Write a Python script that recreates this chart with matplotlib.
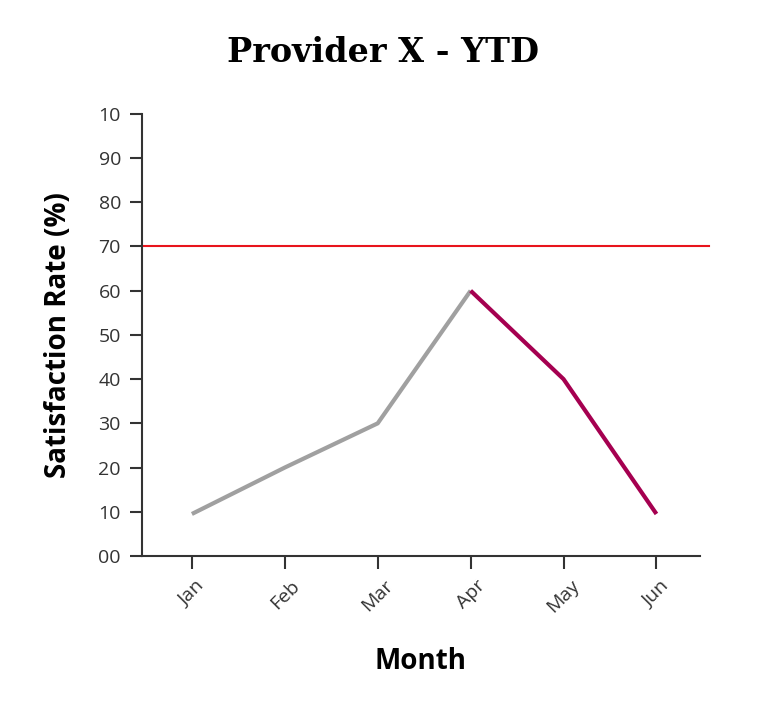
import matplotlib
matplotlib.use("Agg")
import matplotlib.pyplot as plt

months = ["Jan", "Feb", "Mar", "Apr", "May", "Jun"]
values = [9.5, 20, 30, 60, 40, 9.5]
target = 70
yticks = [0, 10, 20, 30, 40, 50, 60, 70, 80, 90, 100]
ylabels = ["00", "10", "20", "30", "40", "50", "60", "70", "80", "90", "10"]

plt.rcParams['font.family'] = ['Open Sans', 'DejaVu Sans']
fig = plt.figure(figsize=(7.66, 7.16), dpi=100)
ax = fig.add_axes([0.185, 0.2235, 0.729, 0.6175])
x = list(range(len(months)))
ax.plot(x[:4], values[:4], color="#a0a0a0", lw=3, solid_capstyle="butt")
ax.plot(x[3:], values[3:], color="#a50050", lw=3, solid_capstyle="butt")
ax.axhline(target, color="#e8141c", lw=1.5, xmax=1.015, clip_on=False)
ax.set_xlim(-0.54, 5.47)
ax.set_ylim(0, 100)
ax.set_yticks(yticks)
ax.set_yticklabels(ylabels, fontsize=14, color="#333333")
ax.set_xticks(x)
ax.set_xticklabels(months, rotation=45, fontsize=14, color="#333333")
for s in ["top", "right"]:
    ax.spines[s].set_visible(False)
for s in ["left", "bottom"]:
    ax.spines[s].set_color("#333333")
    ax.spines[s].set_linewidth(1.5)
ax.tick_params(length=9, width=1.5, color="#333333", pad=6)
ax.set_ylabel("Satisfaction Rate (%)", fontsize=20, fontweight="bold", labelpad=18)
ax.set_xlabel("Month", fontsize=20, fontweight="bold", labelpad=22)
fig.text(0.5, 0.927, "Provider X - YTD", ha="center", va="center",
         fontsize=24, fontweight="bold", family="DejaVu Serif")
fig.savefig("out.png", dpi=100)
